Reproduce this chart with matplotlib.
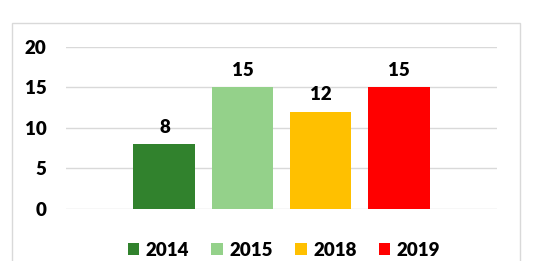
import matplotlib.pyplot as plt
from matplotlib.patches import Rectangle

years = ["2014", "2015", "2018", "2019"]
values = [8, 15, 12, 15]
colors = ["#31822d", "#94d18a", "#ffc000", "#ff0000"]
y_ticks = [0, 5, 10, 15, 20]

W, H = 533, 261
fig = plt.figure(figsize=(W / 100, H / 100), dpi=100)
plt.rcParams["font.family"] = ["Lato", "DejaVu Sans"]
FS = 13.5
WEIGHT = "heavy"

# chart frame (cut off at the bottom)
fig.patches.append(Rectangle((12 / W, -0.05), (520 - 12) / W, 1.05 - 23 / H,
                             transform=fig.transFigure, fill=False,
                             edgecolor="#d9d9d9", lw=1.0))

ax = fig.add_axes([66 / W, 1 - 209 / H, (497 - 66) / W, (209 - 46.5) / H])
slot = 0.181
width = 0.1438
for i, (yr, v, c) in enumerate(zip(years, values, colors)):
    x = (i - 1.5) * slot
    ax.bar(x, v, width=width, color=c, label=yr, zorder=3)
    ax.annotate(str(v), (x, v), xytext=(0, 6), textcoords="offset points",
                ha="center", va="bottom", fontsize=FS, fontweight=WEIGHT)

ax.set_xlim(-0.5, 0.5)
ax.set_ylim(0, 20)
ax.set_yticks(y_ticks)
ax.set_xticks([])
ax.grid(axis="y", color="#d9d9d9", lw=1, zorder=0)
ax.tick_params(axis="y", length=0, pad=14, labelsize=FS)
for lbl in ax.get_yticklabels():
    lbl.set_fontweight(WEIGHT)
for s in ax.spines.values():
    s.set_visible(False)

fig.legend(loc="center", bbox_to_anchor=(284 / W, 1 - 250 / H), ncol=4,
           frameon=False, prop={"size": FS, "weight": WEIGHT},
           handlelength=0.6, handleheight=0.6, handletextpad=0.35,
           columnspacing=1.2)

fig.savefig("out.png", dpi=100)
